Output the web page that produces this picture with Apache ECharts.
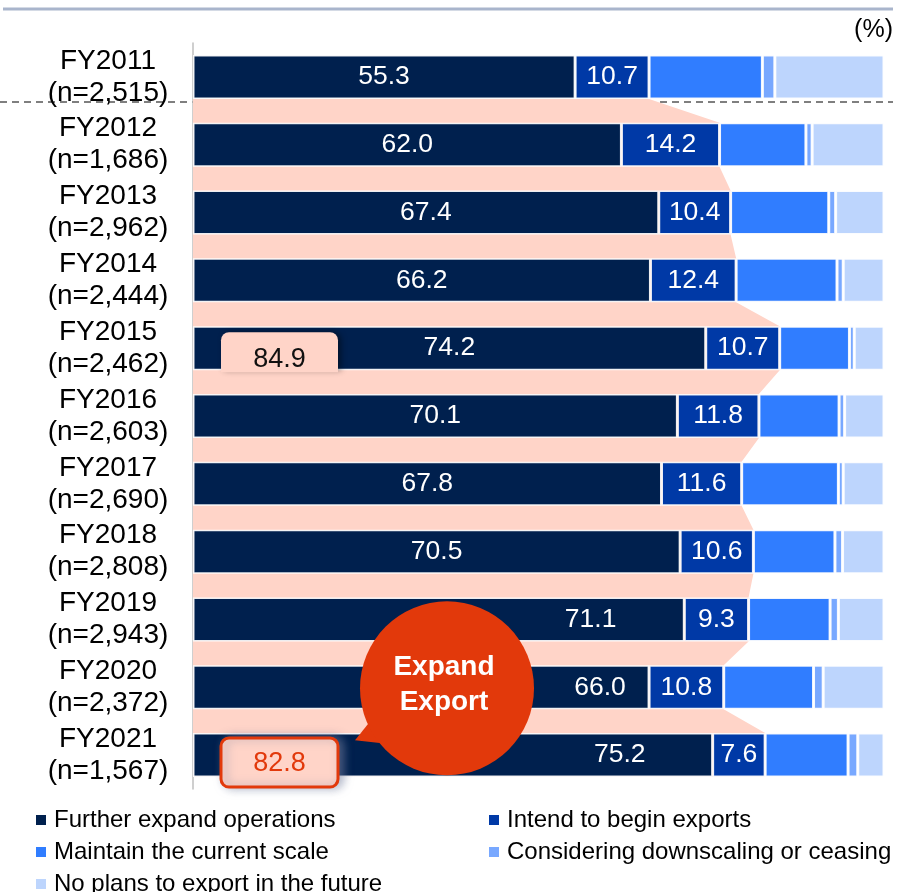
<!DOCTYPE html>
<html>
<head>
<meta charset="utf-8">
<script src="https://cdn.jsdelivr.net/npm/echarts@6/dist/echarts.min.js"></script>
<style>
  html, body { margin: 0; padding: 0; background: #ffffff; }
  #chart { width: 903px; height: 892px; }
</style>
</head>
<body>
<div id="chart"></div>
<script>
// Export intentions of surveyed firms by fiscal year (%)
const categories = ['FY2011', 'FY2012', 'FY2013', 'FY2014', 'FY2015', 'FY2016',
                    'FY2017', 'FY2018', 'FY2019', 'FY2020', 'FY2021'];
const sampleSizes = ['2,515', '1,686', '2,962', '2,444', '2,462', '2,603',
                     '2,690', '2,808', '2,943', '2,372', '1,567'];

const furtherExpand = [55.3, 62.0, 67.4, 66.2, 74.2, 70.1, 67.8, 70.5, 71.1, 66.0, 75.2];
const intendToBegin = [10.7, 14.2, 10.4, 12.4, 10.7, 11.8, 11.6, 10.6, 9.3, 10.8, 7.6];
const maintainScale = [16.4, 12.5, 14.2, 14.6, 10.1, 11.6, 14.0, 11.8, 11.8, 13.0, 12.0];
const downscaling   = [1.8, 0.9, 1.0, 0.9, 0.7, 0.8, 0.7, 1.1, 1.2, 1.4, 1.4];
const noPlans       = [15.8, 10.4, 7.0, 5.9, 4.3, 5.7, 5.9, 6.0, 6.6, 8.8, 3.8];

const seriesNames = ['Further expand operations', 'Intend to begin exports',
                     'Maintain the current scale', 'Considering downscaling or ceasing',
                     'No plans to export in the future'];

// Years whose "expand" total is called out beside the bars
const highlightYears = ['FY2015', 'FY2021'];

const COLORS = ['#00204e', '#0039a6', '#307dff', '#78a8ff', '#bdd5fd'];
const PINK = '#ffd4c8';
const RED = '#e2390b';
const FONT = 'Liberation Sans, Arial, sans-serif';
const BAR_H = 44;

// label nudges for the rows sitting under the speech bubble
const darkLabelShift = { 8: 152, 9: 179, 10: 167 };

const chart = echarts.init(document.getElementById('chart'), null, { renderer: 'canvas' });

const fmt = p => Number(p.value).toFixed(1);

function stackSeries(name, values, color, withLabel, shifts) {
  return {
    name: name,
    type: 'bar',
    stack: 'total',
    barWidth: BAR_H,
    z: 2,
    itemStyle: { color: color, borderColor: 'rgba(255,255,255,0.9)', borderWidth: 1.5 },
    label: withLabel ? {
      show: true, position: 'inside', color: '#ffffff',
      fontSize: 26.5, fontFamily: FONT, formatter: fmt
    } : { show: false },
    emphasis: { disabled: true },
    data: values.map((v, i) => {
      if (shifts && shifts[i] !== undefined) {
        return { value: v, label: { offset: [shifts[i], 0] } };
      }
      return v;
    })
  };
}

function legendAt(name, left, top) {
  return {
    data: [name],
    left: left, top: top,
    padding: 0,
    itemWidth: 10, itemHeight: 10,
    icon: 'rect',
    selectedMode: false,
    itemStyle: { borderWidth: 0 },
    textStyle: { fontSize: 24, color: '#000', fontFamily: FONT, padding: [0, 0, 0, 3] }
  };
}

const option = {
  animation: false,
  textStyle: { fontFamily: FONT },
  color: COLORS,
  grid: { left: 193, right: 19, top: 43, bottom: 103, containLabel: false },
  xAxis: {
    type: 'value', min: 0, max: 100, show: false
  },
  yAxis: {
    type: 'category',
    data: categories,
    inverse: true,
    axisLine: { show: true, lineStyle: { color: '#bfbfbf', width: 1.5 } },
    axisTick: { show: false },
    splitLine: { show: false },
    axisLabel: {
      align: 'center',
      margin: 85,
      fontSize: 28,
      lineHeight: 32,
      color: '#000',
      fontFamily: FONT,
      formatter: (v, i) => v + '\n(n=' + sampleSizes[i] + ')'
    }
  },
  legend: [
    legendAt(seriesNames[0], 36, 808),
    legendAt(seriesNames[1], 489, 808),
    legendAt(seriesNames[2], 36, 840),
    legendAt(seriesNames[3], 489, 840),
    legendAt(seriesNames[4], 36, 872)
  ],
  series: [
    stackSeries(seriesNames[0], furtherExpand, COLORS[0], true, darkLabelShift),
    stackSeries(seriesNames[1], intendToBegin, COLORS[1], true),
    stackSeries(seriesNames[2], maintainScale, COLORS[2], false),
    stackSeries(seriesNames[3], downscaling, COLORS[3], false),
    stackSeries(seriesNames[4], noPlans, COLORS[4], false)
  ]
};

chart.setOption(option);

function drawOverlays() {
  const n = categories.length;
  const half = BAR_H / 2;
  const px = (v, i) => chart.convertToPixel({ gridIndex: 0 }, [v, i]);
  const totals = furtherExpand.map((v, i) => Math.round((v + intendToBegin[i]) * 10) / 10);
  const axisX = px(0, 0)[0];

  // "Expand export" band joining the ends of the first two segments
  const band = [];
  const y0 = px(0, 0)[1];
  band.push([axisX, y0 + half]);
  band.push([px(totals[0], 0)[0], y0 + half]);
  for (let i = 1; i < n; i++) {
    const p = px(totals[i], i);
    band.push([p[0], p[1] - half]);
    band.push([p[0], p[1] + half]);
  }
  band.push([axisX, px(0, n - 1)[1] + half]);

  const sepY = y0 + half + 3;

  const iA = categories.indexOf(highlightYears[0]);
  const iB = categories.indexOf(highlightYears[1]);
  const yA = px(0, iA)[1];
  const yB = px(0, iB)[1];
  const yBubble = px(0, iB - 1)[1];

  const boxL = axisX + 28, boxW = 117;
  const bx = axisX + 254, by = yBubble + 1, br = 87;

  const elements = [
    // top rule
    { type: 'line', z: 0, silent: true,
      shape: { x1: 3, y1: 9, x2: 893, y2: 9 },
      style: { stroke: '#a9b5cc', lineWidth: 3 } },
    // unit
    { type: 'text', z: 5, silent: true,
      style: { text: '(%)', x: 893, y: 30, align: 'right', verticalAlign: 'middle',
               fontSize: 25, fontFamily: FONT, fill: '#000' } },
    // separator below the first year
    { type: 'line', z: 0, silent: true,
      shape: { x1: 0, y1: sepY, x2: 893, y2: sepY },
      style: { stroke: '#7f7f7f', lineWidth: 2, lineDash: [7, 5] } },
    // band
    { type: 'polygon', z: 1, silent: true,
      shape: { points: band },
      style: { fill: PINK } },
    // tab with the FY2015 total
    { type: 'rect', z: 10, silent: true,
      shape: { x: boxL, y: yA - half + 6, width: boxW, height: BAR_H - 6, r: [8, 8, 0, 0] },
      style: { fill: PINK, shadowBlur: 6, shadowOffsetX: 3, shadowColor: 'rgba(0,0,0,0.45)' } },
    { type: 'rect', z: 10, silent: true,
      shape: { x: boxL, y: yA + half - 2, width: boxW, height: 4 },
      style: { fill: PINK } },
    { type: 'text', z: 11, silent: true,
      style: { text: totals[iA].toFixed(1), x: boxL + boxW / 2, y: yA + 11,
               align: 'center', verticalAlign: 'middle',
               fontSize: 27, fontFamily: FONT, fill: '#111' } },
    // boxed FY2021 total
    { type: 'rect', z: 10, silent: true,
      shape: { x: boxL, y: yB - 17, width: boxW, height: 49, r: 8 },
      style: { fill: PINK, stroke: RED, lineWidth: 3,
               shadowBlur: 10, shadowOffsetX: 4, shadowColor: 'rgba(120,130,160,0.6)' } },
    { type: 'text', z: 11, silent: true,
      style: { text: totals[iB].toFixed(1), x: boxL + boxW / 2, y: yB + 8,
               align: 'center', verticalAlign: 'middle',
               fontSize: 27, fontFamily: FONT, fill: RED } },
    // speech bubble
    { type: 'polygon', z: 12, silent: true,
      shape: { points: [[bx - 92, by + 52], [bx - 72, by + 27], [bx - 47, by + 57]] },
      style: { fill: RED } },
    { type: 'circle', z: 12, silent: true,
      shape: { cx: bx, cy: by, r: br },
      style: { fill: RED } },
    { type: 'text', z: 13, silent: true,
      style: { text: 'Expand\nExport', x: bx - 3, y: by - 3,
               align: 'center', verticalAlign: 'middle', lineHeight: 35,
               fontSize: 28, fontWeight: 'bold', fontFamily: FONT, fill: '#ffffff' } }
  ];

  chart.setOption({ graphic: { elements: elements } });
}

drawOverlays();
</script>
</body>
</html>
